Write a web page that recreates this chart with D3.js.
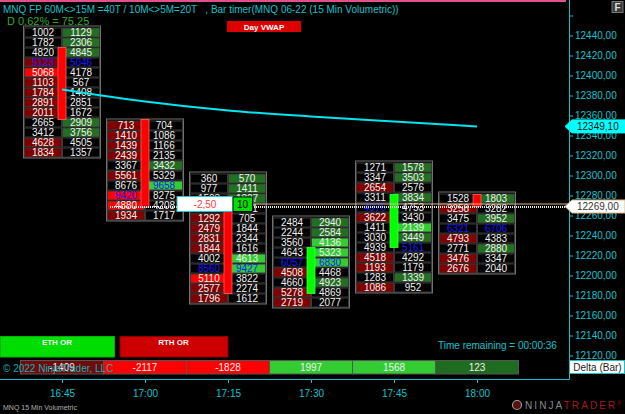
<!DOCTYPE html>
<html>
<head>
<meta charset="utf-8">
<script src="https://cdn.jsdelivr.net/npm/d3@7"></script>
<style>
  body { margin: 0; background: #000; }
  svg { display: block; font-family: "Liberation Sans", Arial, sans-serif; }
</style>
</head>
<body>
<svg id="chart"></svg>
<script>
// bars of the 15 min volumetric chart
const times = ['16:45', '17:00', '17:15', '17:30', '17:45', '18:00'];
const barTop = [12448, 12355, 12302, 12258, 12313, 12282];   // top price of first row
const opens = [12428, 12356, 12268, 12182, 12228, 12281];
const closes = [12356, 12268, 12182, 12228, 12281, 12269];

// bid x ask per row, top row first (10 points per row)
const bids = [
  [1002, 1782, 4820, 5123, 5068, 1103, 1784, 2891, 2011, 2665, 3412, 4628, 1834],
  [713, 1410, 1439, 2439, 3367, 5561, 8676, 9420, 4880, 1934],
  [360, 977, 1503, 2241, 1292, 2479, 2831, 1844, 4002, 8560, 5110, 2577, 1796],
  [2484, 2244, 3560, 4643, 6057, 4508, 4660, 5278, 2719],
  [1271, 3347, 2654, 3311, 4976, 3622, 1411, 3030, 4939, 4518, 1193, 1283, 1086],
  [1528, 3258, 3475, 6321, 4793, 2771, 3476, 2676]
];
const asks = [
  [1129, 2306, 4845, 5046, 4178, 567, 1408, 2851, 1672, 2909, 3756, 4505, 1357],
  [704, 1086, 1166, 2135, 3432, 5329, 9658, 8275, 4208, 1717],
  [570, 1411, 1827, 1131, 705, 1844, 2344, 1616, 4613, 9427, 3822, 2274, 1612],
  [2940, 2584, 4136, 5323, 6830, 4468, 4923, 4869, 2077],
  [1578, 3503, 2576, 3834, 4753, 3430, 2139, 3449, 5161, 4292, 1179, 1339, 952],
  [1803, 3282, 3952, 6706, 4383, 2880, 3347, 2040]
];
// imbalance level per cell: 0 none, 1 normal, 2 strong
const bidLevel = [
  [0, 0, 0, 1, 2, 1, 1, 1, 1, 0, 0, 1, 1],
  [1, 1, 1, 1, 0, 1, 0, 2, 2, 1],
  [0, 0, 0, 0, 1, 1, 1, 1, 0, 0, 2, 1, 1],
  [0, 0, 0, 0, 0, 1, 0, 1, 1],
  [0, 0, 1, 0, 0, 1, 0, 0, 0, 1, 1, 0, 1],
  [0, 1, 0, 0, 1, 0, 1, 1]
];
const askLevel = [
  [1, 1, 1, 0, 0, 0, 0, 0, 0, 1, 1, 0, 0],
  [0, 0, 0, 0, 1, 0, 2, 0, 0, 0],
  [1, 1, 1, 0, 0, 0, 0, 0, 2, 2, 0, 0, 0],
  [1, 1, 2, 2, 2, 0, 1, 0, 0],
  [1, 1, 0, 1, 0, 0, 2, 1, 0, 0, 0, 1, 0],
  [1, 0, 1, 0, 0, 1, 0, 0]
];
const vwap = [12386, 12374, 12365, 12359, 12354, 12349.1];
const deltas = [-1409, -2117, -1828, 1997, 1568, 123];
const lastPrice = 12269;
const orderPrice = 12271.5;
const yTicks = d3.range(12120, 12461, 20);

const W = 625, H = 414;
const cyan = '#12c3cc';
const fs = 10;
const parse = d3.timeParse('%H:%M');

const svg = d3.select('#chart')
  .attr('width', W)
  .attr('height', H);

svg.append('rect').attr('width', W).attr('height', H).attr('fill', '#000');

const x = d3.scaleTime()
  .domain([parse('16:45'), parse('18:00')])
  .range([62, 477]);
const y = d3.scaleLinear()
  .domain([12120, 12440])
  .range([355.5, 35.5]);
const rowH = y(12120) - y(12130);
const half = 38;

const bidFill = ['#000', '#800000', '#ff0000'];
const askFill = ['#000', '#236e23', '#33cc33'];

// pink line at top
svg.append('rect').attr('x', 0).attr('y', 0).attr('width', 566).attr('height', 2).attr('fill', '#e0508c');

// footprint bars
times.forEach((t, i) => {
  const cx = x(parse(t));
  const g = svg.append('g').attr('class', 'bar');
  const maxB = d3.max(bids[i]), maxA = d3.max(asks[i]);
  const n = bids[i].length;

  bids[i].forEach((b, j) => {
    const top = y(barTop[i] - 10 * j);
    [[b, bidFill[bidLevel[i][j]], cx - half, maxB],
     [asks[i][j], askFill[askLevel[i][j]], cx, maxA]].forEach(([v, fill, x0, mx]) => {
      g.append('rect')
        .attr('x', x0 + 0.5).attr('y', top + 0.5)
        .attr('width', half - 1).attr('height', rowH - 1)
        .attr('fill', fill)
        .attr('stroke', '#383838');
      g.append('text')
        .attr('x', x0 + half / 2).attr('y', top + rowH / 2 + 3.6)
        .attr('text-anchor', 'middle')
        .attr('font-size', fs)
        .attr('fill', v === mx ? '#1a1aff' : '#f0f0f0')
        .text(v);
    });
  });

  g.append('rect')
    .attr('x', cx - half - 0.5).attr('y', y(barTop[i]) - 1.5)
    .attr('width', 2 * half + 1).attr('height', n * rowH + 2)
    .attr('fill', 'none').attr('stroke', '#707070');

  // candle body
  const up = closes[i] >= opens[i];
  g.append('rect')
    .attr('x', cx - 4).attr('y', y(Math.max(opens[i], closes[i])))
    .attr('width', 8)
    .attr('height', Math.abs(y(opens[i]) - y(closes[i])))
    .attr('fill', up ? '#00ff00' : '#ff0000')
    .attr('stroke', up ? '#40ff40' : '#ff6060')
    .attr('stroke-width', 0.8);
});

// VWAP
const line = d3.line()
  .x((d, i) => x(parse(times[i])))
  .y(d => y(d))
  .curve(d3.curveMonotoneX);
svg.append('path')
  .datum(vwap)
  .attr('d', line)
  .attr('fill', 'none')
  .attr('stroke', '#00e6f0')
  .attr('stroke-width', 2);

// last price and order line
svg.append('line')
  .attr('x1', 110).attr('x2', 569)
  .attr('y1', y(lastPrice) + 0.5).attr('y2', y(lastPrice) + 0.5)
  .attr('stroke', '#e8e8e8').attr('stroke-width', 2)
  .attr('stroke-dasharray', '1,1');
svg.append('line')
  .attr('x1', 252).attr('x2', 569)
  .attr('y1', y(orderPrice)).attr('y2', y(orderPrice))
  .attr('stroke', '#d9b88a').attr('stroke-width', 1);

// order marker
const oy = y(orderPrice);
svg.append('rect')
  .attr('x', 177).attr('y', oy - 7.5).attr('width', 56).attr('height', 15)
  .attr('fill', '#fff').attr('stroke', '#1ec8d0');
svg.append('text')
  .attr('x', 205).attr('y', oy + 3.6)
  .attr('text-anchor', 'middle').attr('font-size', fs)
  .attr('fill', '#ff4040').text('-2,50');
svg.append('rect')
  .attr('x', 233).attr('y', oy - 7).attr('width', 19.5).attr('height', 14.5)
  .attr('fill', '#00dd00').attr('stroke', '#0a0a0a');
svg.append('text')
  .attr('x', 242.5).attr('y', oy + 3.6)
  .attr('text-anchor', 'middle').attr('font-size', fs)
  .attr('fill', '#000').text('10');

// Day VWAP label
svg.append('rect')
  .attr('x', 227).attr('y', 21).attr('width', 74).attr('height', 11)
  .attr('fill', '#dd0000');
svg.append('text')
  .attr('x', 264).attr('y', 29.5)
  .attr('text-anchor', 'middle').attr('font-size', 8).attr('font-weight', 'bold')
  .attr('fill', '#fff').text('Day VWAP');

// header texts
svg.append('text')
  .attr('x', 3).attr('y', 12.5).attr('font-size', fs).attr('fill', cyan)
  .style('white-space', 'pre')
  .text('MNQ FP 60M<>15M =40T / 10M<>5M=20T   , Bar timer(MNQ 06-22 (15 Min Volumetric))');
svg.append('text')
  .attr('x', 7).attr('y', 24.5).attr('font-size', 11).attr('fill', '#2eaa2e')
  .text('D 0.62% = 75.25');

// F button
svg.append('rect')
  .attr('x', 612).attr('y', 1.5).attr('width', 11).attr('height', 11)
  .attr('fill', '#3a3a3a').attr('stroke', '#777');
svg.append('text')
  .attr('x', 617.5).attr('y', 11).attr('text-anchor', 'middle')
  .attr('font-size', 10).attr('font-weight', 'bold').attr('fill', '#ddd').text('F');

// OR boxes
const orBoxes = [['ETH OR', 0, 114, '#00dd00', '#00b000'], ['RTH OR', 119.5, 108, '#cc0000', '#8a0000']];
orBoxes.forEach(([label, bx, bw, fill, st]) => {
  svg.append('rect')
    .attr('x', bx + 0.5).attr('y', 336.5).attr('width', bw).attr('height', 20.5)
    .attr('fill', fill).attr('stroke', st);
  svg.append('text')
    .attr('x', bx + bw / 2).attr('y', 344.5)
    .attr('text-anchor', 'middle').attr('font-size', 8).attr('font-weight', 'bold')
    .attr('fill', '#f4f4f4').text(label);
});

svg.append('text')
  .attr('x', 438).attr('y', 348.5).attr('font-size', fs).attr('fill', cyan)
  .text('Time remaining = 00:00:36');

// delta row
times.forEach((t, i) => {
  const cx = x(parse(t));
  const d = deltas[i];
  const strong = Math.abs(d) >= 1500;
  const fill = d < 0 ? (strong ? '#ff0000' : '#6e0c0c') : (strong ? '#33cc33' : '#1f6b1f');
  svg.append('rect')
    .attr('x', cx - 41.5).attr('y', 360.5).attr('width', 83).attr('height', 13.5)
    .attr('fill', fill).attr('stroke', '#555');
  svg.append('text')
    .attr('x', cx).attr('y', 371)
    .attr('text-anchor', 'middle').attr('font-size', fs)
    .attr('fill', '#f0f0f0').text(d);
});
svg.append('text')
  .attr('x', 3).attr('y', 372).attr('font-size', fs).attr('fill', '#1aaab4')
  .text('\u00a9 2022 NinjaTrader, LLC');

// axes
const fmt = d3.formatLocale({ decimal: ',', thousands: '', grouping: [3], currency: ['', ''] }).format('.2f');

const yAxis = svg.append('g')
  .attr('transform', 'translate(569,0)')
  .call(d3.axisRight(y).tickValues(yTicks).tickSize(4).tickPadding(2)
    .tickFormat(d => d > 12440 ? '' : fmt(d)));
yAxis.select('.domain').remove();
yAxis.selectAll('line').attr('stroke', cyan);
yAxis.selectAll('text').attr('fill', cyan).attr('font-size', fs).attr('font-family', 'Liberation Sans, Arial, sans-serif');

const xAxis = svg.append('g')
  .attr('transform', 'translate(0,379)')
  .call(d3.axisBottom(x).ticks(d3.timeMinute.every(15)).tickSize(4).tickPadding(7)
    .tickFormat(d3.timeFormat('%H:%M')));
xAxis.select('.domain').remove();
xAxis.selectAll('line').attr('stroke', cyan);
xAxis.selectAll('text').attr('fill', cyan).attr('font-size', fs).attr('font-family', 'Liberation Sans, Arial, sans-serif');

svg.append('line').attr('x1', 569.5).attr('x2', 569.5).attr('y1', 0).attr('y2', 379.5).attr('stroke', cyan);
svg.append('line').attr('x1', 0).attr('x2', 569.5).attr('y1', 379.5).attr('y2', 379.5).attr('stroke', cyan);

// price markers on the axis
const markers = [[vwap[vwap.length - 1], '#00ffff', '#00ffff', '#111'], [lastPrice, '#ffffff', '#d9b88a', '#333']];
markers.forEach(([p, fill, st, tc]) => {
  const py = y(p);
  svg.append('path')
    .attr('d', `M565,${py} L572,${py - 6.5} L625,${py - 6.5} L625,${py + 6.5} L572,${py + 6.5} Z`)
    .attr('fill', fill).attr('stroke', st);
  svg.append('text')
    .attr('x', 577).attr('y', py + 3.6).attr('font-size', fs).attr('fill', tc)
    .text(fmt(p));
});

// indicator label
svg.append('rect')
  .attr('x', 569.5).attr('y', 360.5).attr('width', 55).attr('height', 13)
  .attr('fill', '#fff').attr('stroke', cyan);
svg.append('text')
  .attr('x', 597.5).attr('y', 370.5).attr('text-anchor', 'middle')
  .attr('font-size', fs).attr('fill', '#222').text('Delta (Bar)');

// footer
svg.append('text')
  .attr('x', 3).attr('y', 410).attr('font-size', 7).attr('fill', '#b0b0b0')
  .text('MNQ 15 Min Volumetric');
svg.append('circle').attr('cx', 517).attr('cy', 405).attr('r', 4.5)
  .attr('fill', '#5a1010').attr('stroke', '#999').attr('stroke-width', 1.2);
const logo = svg.append('text')
  .attr('x', 525).attr('y', 409).attr('font-size', 10).attr('letter-spacing', 2.1);
logo.append('tspan').attr('fill', '#8a8a8a').text('NINJA');
logo.append('tspan').attr('fill', '#a81818').text('TRADER');
logo.append('tspan').attr('fill', '#a81818').attr('font-size', 5).attr('dy', -4).text('\u00ae');
</script>
</body>
</html>
